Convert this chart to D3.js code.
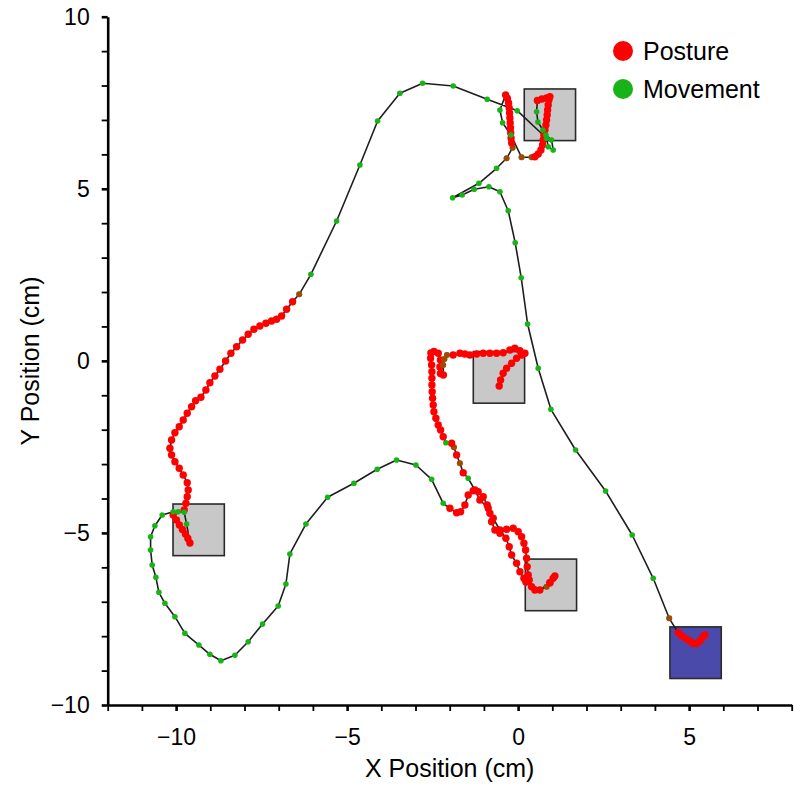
<!DOCTYPE html>
<html><head><meta charset="utf-8">
<script src="https://cdn.jsdelivr.net/npm/d3@7"></script>
<style>body{margin:0;background:#fff}svg{display:block}text{font-family:"Liberation Sans",Arial,Helvetica,sans-serif}</style>
</head><body><svg id="c" width="800" height="793"></svg>
<script>
// ---- data ----
const xTicks = d3.range(-12, 9);
const yTicks = d3.range(-10, 11);
const xLabels = [-10, -5, 0, 5];
const yLabels = [-10, -5, 0, 5, 10];
const targetX = [0.93, -0.56, -9.34, 0.96, 5.19];
const targetY = [7.15, -0.48, -4.91, -6.51, -8.48];
const targetKind = ['gray', 'gray', 'gray', 'gray', 'start'];
const targetSize = 1.5;
const legendLabels = ['Posture', 'Movement'];
// trajectory: [x cm, y cm, state]  P = posture, M = movement, B = both
const trajectory = [
[5.462,-7.966,'P'],[5.389,-8.039,'P'],[5.316,-8.140,'P'],[5.228,-8.213,'P'],[5.126,-8.213,'P'],[5.023,-8.140,'P'],[4.921,-8.082,'P'],[4.789,-7.995,'P'],[4.681,-7.899,'P'],
[4.418,-7.481,'B'],
[3.950,-6.318,'M'],[3.336,-5.060,'M'],[2.558,-3.782,'M'],[1.681,-2.590,'M'],[0.959,-1.408,'M'],[0.588,-0.216,'M'],[0.278,1.071,'M'],[0.091,2.416,'M'],[-0.085,3.433,'M'],[-0.289,4.363,'M'],[-0.532,4.915,'M'],[-0.854,5.060,'M'],[-1.284,4.985,'M'],[-1.635,4.819,'M'],[-1.915,4.741,'M'],[-1.146,5.159,'M'],[-0.629,5.595,'M'],
[-0.336,5.886,'B'],[-0.161,6.193,'B'],
[-0.190,6.330,'P'],[-0.205,6.475,'P'],[-0.216,6.621,'P'],[-0.222,6.766,'P'],[-0.231,6.911,'P'],[-0.240,7.056,'P'],[-0.249,7.202,'P'],[-0.260,7.347,'P'],[-0.278,7.492,'P'],[-0.313,7.623,'P'],[-0.365,7.725,'P'],
[-0.532,7.289,'M'],[-0.453,6.920,'M'],[-0.211,6.563,'M'],
[0.102,5.915,'B'],[0.395,5.915,'B'],
[0.491,5.932,'P'],[0.588,6.010,'P'],[0.667,6.127,'P'],[0.716,6.272,'P'],[0.734,6.417,'P'],[0.754,6.563,'P'],[0.784,6.708,'P'],[0.813,6.853,'P'],[0.833,6.999,'P'],[0.851,7.144,'P'],[0.863,7.289,'P'],[0.880,7.434,'P'],[0.901,7.580,'P'],[0.930,7.675,'P'],[0.833,7.638,'P'],[0.696,7.609,'P'],[0.564,7.565,'P'],
[0.541,7.240,'M'],[0.579,6.940,'M'],[0.725,6.708,'M'],[0.813,6.563,'M'],[0.980,6.417,'M'],[1.026,6.127,'M'],[0.880,6.223,'M'],[0.833,6.467,'M'],
[-0.026,7.269,'M'],[-0.904,7.600,'M'],[-1.898,7.986,'M'],[-2.792,8.065,'M'],[-3.456,7.774,'M'],[-4.108,6.969,'M'],[-4.626,5.691,'M'],[-5.307,4.064,'M'],[-6.058,2.515,'M'],
[-6.401,1.934,'B'],
[-6.594,1.719,'P'],[-6.769,1.498,'P'],[-6.915,1.303,'P'],[-7.061,1.207,'P'],[-7.208,1.158,'P'],[-7.374,1.091,'P'],[-7.550,1.013,'P'],[-7.725,0.917,'P'],[-7.892,0.771,'P'],[-8.056,0.606,'P'],[-8.231,0.411,'P'],[-8.398,0.219,'P'],[-8.553,-0.004,'P'],[-8.719,-0.246,'P'],[-8.865,-0.440,'P'],[-9.012,-0.635,'P'],[-9.129,-0.847,'P'],[-9.275,-1.059,'P'],[-9.430,-1.158,'P'],[-9.547,-1.332,'P'],[-9.675,-1.524,'P'],[-9.792,-1.719,'P'],[-9.909,-1.913,'P'],[-10.035,-2.088,'P'],[-10.132,-2.300,'P'],[-10.181,-2.541,'P'],[-10.132,-2.736,'P'],[-10.035,-2.930,'P'],[-9.909,-3.122,'P'],[-9.792,-3.317,'P'],[-9.675,-3.541,'P'],[-9.646,-3.753,'P'],[-9.675,-3.947,'P'],[-9.713,-4.139,'P'],[-9.763,-4.334,'P'],
[-10.085,-4.479,'P'],[-9.991,-4.624,'P'],[-9.904,-4.770,'P'],[-9.816,-4.900,'P'],[-9.728,-5.031,'P'],[-9.655,-5.162,'P'],[-9.596,-5.293,'P'],
[-9.693,-4.741,'M'],[-9.763,-4.401,'M'],[-9.939,-4.383,'M'],[-10.085,-4.383,'M'],[-10.406,-4.479,'M'],[-10.620,-4.790,'M'],[-10.746,-5.110,'M'],[-10.746,-5.496,'M'],[-10.699,-5.932,'M'],[-10.591,-6.289,'M'],[-10.503,-6.725,'M'],[-10.327,-7.045,'M'],[-10.035,-7.434,'M'],[-9.743,-7.917,'M'],[-9.333,-8.257,'M'],[-9.012,-8.527,'M'],[-8.690,-8.713,'M'],[-8.281,-8.556,'M'],[-7.892,-8.161,'M'],[-7.471,-7.646,'M'],[-7.015,-7.123,'M'],[-6.789,-6.484,'M'],[-6.673,-5.612,'M'],[-6.205,-4.741,'M'],
[-5.570,-3.965,'M'],[-4.801,-3.558,'M'],[-4.120,-3.151,'M'],[-3.553,-2.881,'M'],[-2.988,-3.026,'M'],[-2.529,-3.442,'M'],[-2.190,-4.139,'M'],
[-1.994,-4.284,'P'],[-1.798,-4.412,'P'],[-1.681,-4.383,'P'],[-1.556,-4.189,'P'],[-1.459,-3.898,'P'],[-1.313,-3.773,'P'],[-1.167,-3.802,'P'],[-1.020,-3.947,'P'],[-0.904,-4.189,'P'],[-0.825,-4.430,'P'],[-0.775,-4.674,'P'],[-0.678,-4.915,'P'],[-0.532,-5.011,'P'],[-0.336,-4.895,'P'],[-0.143,-4.866,'P'],[0.003,-4.964,'P'],[0.102,-5.110,'P'],[0.170,-5.301,'P'],[0.219,-5.496,'P'],[0.249,-5.737,'P'],[0.266,-5.981,'P'],[0.295,-6.223,'P'],[0.325,-6.368,'P'],[0.395,-6.563,'P'],[0.491,-6.658,'P'],
[0.637,-6.658,'M'],[0.833,-6.563,'B'],
[0.930,-6.446,'P'],[1.026,-6.318,'P'],[1.076,-6.252,'P'],[0.930,-6.446,'P'],[0.637,-6.658,'P'],
[0.228,-6.426,'P'],[0.170,-6.318,'P'],[0.053,-6.127,'P'],[-0.044,-5.883,'P'],[-0.190,-5.641,'P'],[-0.260,-5.400,'P'],[-0.357,-5.156,'P'],[-0.532,-4.915,'P'],[-0.728,-4.575,'P'],[-0.874,-4.284,'P'],[-1.117,-4.043,'P'],[-1.263,-3.753,'P'],
[-1.459,-3.413,'M'],[-1.605,-3.250,'P'],[-1.702,-2.977,'B'],[-1.798,-2.736,'P'],[-1.877,-2.512,'B'],[-1.944,-2.396,'P'],[-2.111,-2.378,'M'],
[-2.190,-2.204,'P'],[-2.266,-2.009,'P'],[-2.336,-1.864,'P'],[-2.404,-1.669,'P'],[-2.462,-1.478,'P'],[-2.482,-1.283,'P'],[-2.500,-1.088,'P'],[-2.512,-0.896,'P'],[-2.520,-0.702,'P'],[-2.520,-0.507,'P'],[-2.520,-0.315,'P'],[-2.529,-0.121,'P'],[-2.558,0.074,'P'],[-2.550,0.228,'P'],[-2.462,0.272,'P'],[-2.336,0.219,'P'],[-2.272,0.025,'P'],[-2.287,-0.179,'P'],[-2.272,-0.368,'P'],[-2.184,-0.411,'P'],
[-2.190,-0.121,'B'],[-2.155,0.054,'B'],[-2.082,0.170,'B'],
[-1.898,0.170,'P'],[-1.702,0.219,'P'],[-1.556,0.199,'P'],[-1.409,0.170,'P'],[-1.213,0.199,'P'],[-1.020,0.219,'P'],[-0.825,0.219,'P'],[-0.629,0.219,'P'],[-0.436,0.237,'P'],[-0.240,0.315,'P'],[-0.094,0.365,'P'],[0.053,0.295,'P'],[0.199,0.219,'P'],[0.102,0.170,'P'],[-0.044,0.074,'P'],[-0.190,-0.071,'P'],[-0.336,-0.216,'P'],[-0.436,-0.362,'P'],[-0.512,-0.556,'P'],[-0.553,-0.731,'P']
];

// ---- drawing ----
const RED = '#ff0000', GREEN = '#17b317';
const svg = d3.select('#c');
const x = d3.scaleLinear().domain([-12, 8]).range([107.7, 791.7]);
const y = d3.scaleLinear().domain([-10, 10]).range([705, 16.7]);
const fmt = d => d < 0 ? '\u2212' + Math.abs(d) : String(d);

// targets
const half = targetSize / 2;
svg.append('g').selectAll('rect').data(targetX.map((cx, i) => ({cx, cy: targetY[i], kind: targetKind[i]})))
  .join('rect')
  .attr('x', d => x(d.cx - half)).attr('y', d => y(d.cy + half))
  .attr('width', d => x(d.cx + half) - x(d.cx - half))
  .attr('height', d => y(d.cy - half) - y(d.cy + half))
  .attr('fill', d => d.kind === 'start' ? '#4a4aab' : '#c8c8c8')
  .attr('stroke', '#2a2a2a').attr('stroke-width', 1.6);

// path
svg.append('path').datum(trajectory)
  .attr('d', d3.line().x(d => x(d[0])).y(d => y(d[1])))
  .attr('fill', 'none').attr('stroke', '#1e1e1e').attr('stroke-width', 1.6).attr('stroke-linejoin', 'round');

// points
const pts = svg.append('g');
trajectory.forEach(d => {
  const cx = x(d[0]), cy = y(d[1]);
  if (d[2] === 'M') {
    pts.append('circle').attr('cx', cx).attr('cy', cy).attr('r', 2.8).attr('fill', GREEN);
  } else if (d[2] === 'P') {
    pts.append('circle').attr('cx', cx).attr('cy', cy).attr('r', 3.7).attr('fill', RED);
  } else {
    pts.append('circle').attr('cx', cx).attr('cy', cy).attr('r', 3.0).attr('fill', GREEN);
    pts.append('circle').attr('cx', cx).attr('cy', cy).attr('r', 3.0).attr('fill', RED).attr('opacity', 0.6);
  }
});

// axes
const xAxis = d3.axisBottom(x).tickValues(xTicks).tickSize(6).tickSizeOuter(0).tickPadding(17.5)
  .tickFormat(d => xLabels.includes(d) ? fmt(d) : '');
const gx = svg.append('g').attr('transform', 'translate(0,705)').call(xAxis);
const yAxis = d3.axisLeft(y).tickValues(yTicks).tickSize(6).tickSizeOuter(0).tickPadding(12)
  .tickFormat(d => yLabels.includes(d) ? fmt(d) : '');
const gy = svg.append('g').attr('transform', 'translate(107.7,0)').call(yAxis);
[gx, gy].forEach(g => {
  g.attr('font-size', 23).attr('font-family', '"Liberation Sans", Arial, sans-serif');
  g.select('.domain').attr('stroke', '#000').attr('stroke-width', 2.6);
  g.selectAll('.tick line').attr('stroke', '#000').attr('stroke-width', d => d % 5 === 0 ? 2.6 : 1.8);
  g.selectAll('.tick text').attr('fill', '#000');
});

// titles
svg.append('text').attr('x', 449.7).attr('y', 777).attr('text-anchor', 'middle')
  .attr('font-size', 25).text('X Position (cm)');
svg.append('text').attr('transform', 'translate(39,361) rotate(-90)').attr('text-anchor', 'middle')
  .attr('font-size', 25).text('Y Position (cm)');

// legend
const lg = svg.append('g');
legendLabels.forEach((t, i) => {
  const cy = 51 + i * 38;
  lg.append('circle').attr('cx', 623).attr('cy', cy).attr('r', 10).attr('fill', i === 0 ? RED : GREEN);
  lg.append('text').attr('x', 643).attr('y', cy + 9).attr('font-size', 25).attr('fill', '#000').text(t);
});
</script></body></html>
